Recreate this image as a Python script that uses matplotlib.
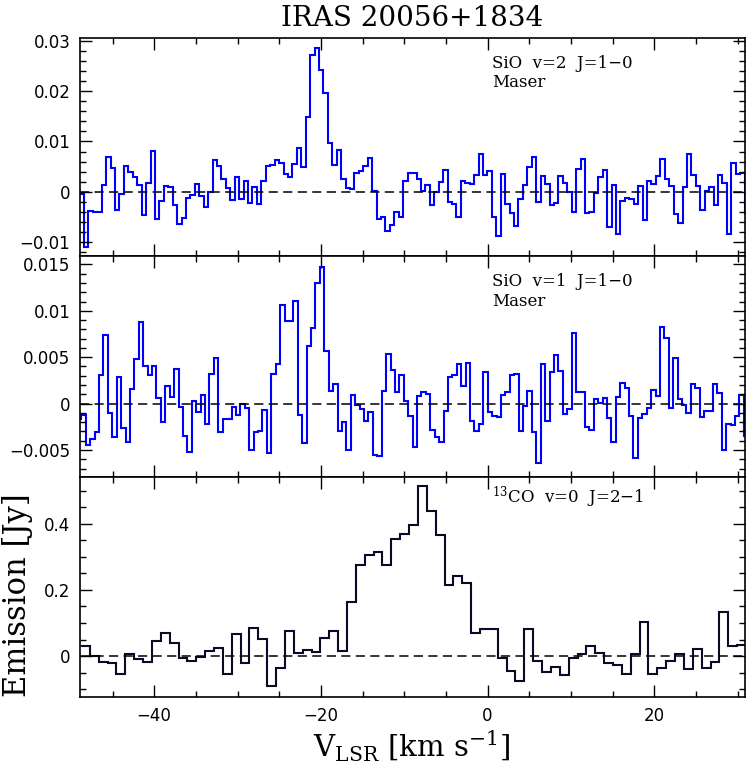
import numpy as np
import matplotlib
matplotlib.use("Agg")
import matplotlib.pyplot as plt
from matplotlib.ticker import MultipleLocator, FuncFormatter

# ── Spectra (channel values) ──────────────────────────────────────────────────
# SiO v=2 J=1-0  [Jy]
sio_v2_start, sio_v2_dv = -48.95, 0.532
sio_v2 = [
    -0.0005, -0.0109, -0.0037, -0.0040, -0.0040, 0.0013, 0.0069, 0.0048, -0.0035, -0.0005,
    0.0051, 0.0039, 0.0030, 0.0013, -0.0045, 0.0018, 0.0082, -0.0053, -0.0018, 0.0011,
    0.0010, -0.0026, -0.0064, -0.0051, -0.0013, -0.0007, 0.0016, -0.0009, -0.0030, 0.0000,
    0.0064, 0.0051, 0.0025, 0.0008, -0.0016, 0.0030, -0.0014, 0.0022, -0.0022, 0.0010,
    -0.0023, 0.0021, 0.0051, 0.0054, 0.0063, 0.0058, 0.0035, 0.0030, 0.0055, 0.0088,
    0.0049, 0.0148, 0.0272, 0.0285, 0.0241, 0.0197, 0.0097, 0.0053, 0.0084, 0.0026,
    0.0008, 0.0005, 0.0038, 0.0041, 0.0052, 0.0068, 0.0001, -0.0054, -0.0049, -0.0078,
    -0.0066, -0.0040, -0.0049,
    0.0021, 0.0038, 0.0038, 0.0026, 0.0001, 0.0014, -0.0026, 0.0000, 0.0020, 0.0044,
    -0.0020, -0.0024, -0.0049, 0.0021, 0.0018, 0.0015, 0.0034, 0.0076, 0.0034, 0.0041,
    -0.0049, -0.0088, 0.0035, -0.0023, -0.0041, -0.0067, -0.0015, 0.0014, 0.0049, 0.0069,
    -0.0020, 0.0032, 0.0015, -0.0026, -0.0022, 0.0031, 0.0018, -0.0001, -0.0040, 0.0046,
    0.0066, -0.0041, -0.0040, -0.0002, 0.0030, 0.0044, -0.0069, 0.0014, -0.0084, -0.0018,
    -0.0013, -0.0015, -0.0024, 0.0011, -0.0056, 0.0022, 0.0016, 0.0032, 0.0066, 0.0025,
    0.0012, -0.0043, -0.0061, 0.0009, 0.0076, 0.0034, 0.0012, -0.0036, 0.0001, 0.0009,
    -0.0025, 0.0034, 0.0018, -0.0084, 0.0057, 0.0035, 0.0038, -0.0041,
]

# SiO v=1 J=1-0  [Jy]
sio_v1_start, sio_v1_dv = -49.27, 0.530
sio_v1 = [
    -0.0017, -0.0012, -0.0044, -0.0038, -0.0031, 0.0031, 0.0074, -0.0010, -0.0036, 0.0029,
    -0.0026, -0.0041, 0.0016, 0.0048, 0.0088, 0.0040, 0.0031, 0.0040, 0.0006, -0.0020,
    0.0019, 0.0007, 0.0037, -0.0004, -0.0035, -0.0052, 0.0003, -0.0009, 0.0009, -0.0022,
    0.0032, 0.0049, -0.0031, -0.0017, -0.0017, -0.0004, -0.0012, 0.0000, -0.0005, -0.0050,
    -0.0031, -0.0030, -0.0007, -0.0053, 0.0032, 0.0043, 0.0106, 0.0089, 0.0089, 0.0111,
    -0.0012, -0.0042, 0.0062, 0.0081, 0.0130, 0.0147, 0.0057, 0.0014, 0.0021, -0.0029,
    -0.0020, -0.0050, 0.0009, -0.0001, -0.0006, -0.0019, -0.0009, -0.0055, -0.0056, 0.0014,
    0.0053, 0.0036, 0.0012, 0.0031, 0.0003, -0.0013,
    -0.0047, 0.0008, 0.0012, 0.0010, -0.0028, -0.0036, -0.0041, -0.0008, 0.0029, 0.0031,
    0.0043, 0.0019, 0.0044, -0.0019, -0.0030, -0.0022, 0.0034, -0.0009, -0.0013, -0.0014,
    0.0009, 0.0012, 0.0031, 0.0032, -0.0029, -0.0003, 0.0014, -0.0031, -0.0064, 0.0043,
    -0.0019, 0.0034, 0.0052, 0.0035, -0.0011, -0.0006, 0.0076, 0.0012, 0.0012, -0.0025,
    -0.0028, 0.0005, 0.0001, 0.0006, -0.0015, -0.0041, 0.0007, 0.0022, 0.0017, -0.0013,
    -0.0059, -0.0015, -0.0011, -0.0005, 0.0015, 0.0008, 0.0083, 0.0071, -0.0005, 0.0049,
    0.0005, -0.0001, -0.0010, 0.0021, 0.0017, -0.0014, -0.0008, -0.0008, 0.0021, 0.0011,
    -0.0050, -0.0022, -0.0023, -0.0013, 0.0009, -0.0035,
]

# 13CO v=0 J=2-1  [Jy]
co13_start, co13_dv = -48.78, 1.064
co13 = [
    0.031, 0.001, -0.017, -0.022, -0.053, 0.006, -0.009, -0.017, 0.046, 0.071,
    0.040, -0.005, -0.014, -0.002, 0.016, 0.023, -0.053, 0.067, -0.020, 0.086,
    0.051, -0.091, -0.037, 0.077, 0.010, 0.018, 0.011, 0.056, 0.077, 0.016,
    0.163, 0.274, 0.306, 0.313, 0.276, 0.355, 0.370, 0.397, 0.515, 0.437,
    0.365, 0.215, 0.243, 0.220, 0.069, 0.083, 0.081, -0.005, -0.045, -0.075,
    0.081, -0.014, -0.047, -0.034, -0.058, -0.005, 0.005, 0.031, 0.010, -0.020,
    -0.027, -0.055, 0.005, 0.102, -0.055, -0.037, -0.015, 0.005, -0.039, 0.020,
    -0.035, -0.017, 0.134, 0.031, 0.035,
]

# ── Figure ────────────────────────────────────────────────────────────────────
plt.rcParams["mathtext.fontset"] = "dejavuserif"
fig = plt.figure(figsize=(7.47, 7.67), dpi=100)

L, W = 80 / 747, 665 / 747
def frac(top_px, bot_px):
    return [L, 1 - bot_px / 767, W, (bot_px - top_px) / 767]

ax1 = fig.add_axes(frac(38, 256))
ax2 = fig.add_axes(frac(256, 477))
ax3 = fig.add_axes(frac(477, 697))

def yfmt(v, pos):
    v = round(v, 6)
    if abs(v) < 1e-9:
        return "0"
    return ("%g" % v).replace("-", "\u2212")

panels = [
    (ax1, sio_v2, sio_v2_start, sio_v2_dv, "#0000ff", (-0.0127, 0.0305), 0.01, 0.002,
     ["SiO  v=2  J=1\u22120", "Maser"]),
    (ax2, sio_v1, sio_v1_start, sio_v1_dv, "#0000ff", (-0.0079, 0.0159), 0.005, 0.001,
     ["SiO  v=1  J=1\u22120", "Maser"]),
    (ax3, co13, co13_start, co13_dv, "#0a0a28", (-0.1235, 0.541), 0.2, 0.05,
     ["$^{13}$CO  v=0  J=2\u22121"]),
]

for ax, vals, v0, dv, col, ylim, major, minor, lab in panels:
    edges = v0 + dv * np.arange(len(vals) + 1)
    ax.stairs(vals, edges, baseline=None, color=col, lw=1.5)
    ax.axhline(0, color="k", ls="--", lw=1.1, dashes=(6, 3.5))
    ax.set_xlim(-48.9, 30.9)
    ax.set_ylim(*ylim)
    ax.xaxis.set_major_locator(MultipleLocator(20))
    ax.xaxis.set_minor_locator(MultipleLocator(5))
    ax.yaxis.set_major_locator(MultipleLocator(major))
    ax.yaxis.set_minor_locator(MultipleLocator(minor))
    ax.yaxis.set_major_formatter(FuncFormatter(yfmt))
    ax.tick_params(which="both", direction="in", top=True, right=True, width=1.0)
    ax.tick_params(which="major", length=8.5, labelsize=12, pad=7)
    ax.tick_params(which="minor", length=4.5)
    for s in ax.spines.values():
        s.set_linewidth(1.2)
    if len(lab) == 2:
        ax.text(0.62, 0.885, lab[0], transform=ax.transAxes, fontsize=12,
                family="DejaVu Serif", va="center")
        ax.text(0.62, 0.795, lab[1], transform=ax.transAxes, fontsize=12,
                family="DejaVu Serif", va="center")
    else:
        ax.text(0.62, 0.905, lab[0], transform=ax.transAxes, fontsize=12,
                family="DejaVu Serif", va="center")

ax1.tick_params(labelbottom=False)
ax2.tick_params(labelbottom=False)
ax3.xaxis.set_major_formatter(FuncFormatter(yfmt))

fig.text(412 / 747, 1 - 19 / 767, "IRAS 20056+1834", ha="center", va="center",
         fontsize=20, family="DejaVu Serif")
fig.text(412 / 747, 1 - 746 / 767, r"V$_{\rm LSR}$ [km s$^{-1}$]", ha="center",
         va="center", fontsize=21, family="DejaVu Serif")
fig.text(18 / 747, 1 - 595 / 767, "Emission [Jy]", ha="center", va="center",
         rotation=90, fontsize=22, family="DejaVu Serif")

fig.savefig("out.png", dpi=100)
